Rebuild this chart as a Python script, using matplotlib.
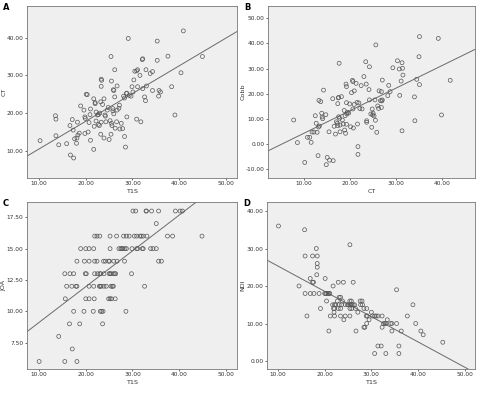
import matplotlib
matplotlib.use('Agg')
import matplotlib.pyplot as plt
import numpy as np

# ---- panel A: T1S vs CT ----
a_t1s = [10.2, 14.2, 13.5, 13.6, 13.6, 15.9, 16.6, 16.7, 17.4, 17.1, 17.3, 17.6, 18.0, 18.1, 18.3,
         18.2, 18.9, 18.6, 19.6, 19.8, 19.8, 19.9, 20.1, 20.3, 20.5, 20.7, 20.9, 21.0, 21.0, 21.7,
         21.7, 21.8, 22.0, 22.0, 22.2, 22.2, 22.5, 22.7, 22.7, 22.9, 23.0, 23.2, 23.2, 23.3, 23.3,
         23.4, 23.3, 23.6, 23.9, 23.9, 24.1, 24.2, 24.3, 24.6, 24.8, 25.0, 25.2, 25.4, 25.5, 25.4,
         25.5, 25.6, 25.8, 25.8, 25.9, 26.0, 26.0, 26.2, 26.2, 26.3, 26.6, 26.7, 26.7, 27.1, 27.2,
         27.3, 27.6, 27.9, 28.1, 28.3, 28.3, 28.5, 28.7, 28.8, 28.8, 29.1, 29.3, 29.7, 29.9, 30.1,
         30.3, 30.5, 30.9, 30.9, 31.1, 31.1, 31.6, 31.8, 32.1, 32.2, 32.2, 32.6, 32.8, 32.9, 33.0,
         33.8, 34.3, 34.3, 35.3, 35.3, 35.6, 35.7, 36.0, 37.6, 38.4, 39.1, 40.4, 40.9, 45.0]
a_ct = [12.7, 11.6, 19.3, 18.4, 14.0, 11.9, 16.7, 8.9, 8.1, 18.3, 15.5, 13.2, 12.0, 13.4, 14.2,
        17.6, 21.9, 14.7, 20.8, 14.6, 19.0, 18.6, 25.0, 24.9, 15.0, 17.5, 19.6, 21.1, 12.8, 23.8,
        10.4, 16.5, 22.8, 22.5, 20.3, 17.9, 19.5, 19.6, 17.0, 16.7, 20.0, 23.0, 14.4, 17.6, 29.0,
        28.7, 27.1, 22.3, 23.8, 13.4, 19.5, 19.2, 17.7, 20.8, 21.5, 13.0, 18.0, 14.4, 28.5, 35.0,
        17.3, 16.7, 20.6, 21.2, 26.2, 26.0, 19.8, 31.5, 24.3, 16.0, 17.7, 27.2, 20.8, 21.3, 22.1,
        15.8, 17.3, 15.9, 24.5, 13.8, 24.0, 11.0, 25.2, 25.3, 19.0, 39.8, 24.7, 24.5, 27.0, 25.6,
        28.8, 31.1, 18.4, 31.2, 31.5, 27.0, 30.0, 17.7, 34.2, 34.4, 26.5, 24.3, 23.3, 31.5, 27.2,
        30.5, 31.0, 26.0, 39.1, 34.0, 24.5, 26.0, 25.6, 35.1, 27.0, 19.5, 30.7, 41.8, 35.0]
a_fit = (0.734, 3.17)

# ---- panel B: CT vs Cobb ----
b_ct = [7.7, 8.5, 10.1, 10.7, 11.2, 11.5, 11.7, 12.1, 12.4, 12.6, 12.8, 13.0, 13.2, 13.6, 13.3,
        13.1, 13.8, 13.9, 14.0, 14.2, 14.7, 14.8, 15.0, 15.5, 15.4, 16.3, 16.2, 16.5, 16.8, 17.0,
        17.2, 17.3, 17.4, 17.5, 17.6, 17.7, 17.5, 17.3, 17.8, 17.8, 18.1, 18.3, 18.5, 18.7, 18.8,
        18.9, 19.1, 19.0, 19.2, 19.2, 19.3, 19.2, 19.4, 19.7, 19.9, 20.1, 20.3, 20.5, 20.6, 20.6,
        20.7, 20.9, 20.9, 21.3, 21.5, 21.6, 21.7, 21.7, 21.9, 22.1, 22.4, 22.6, 23.0, 23.4, 23.5,
        23.6, 23.6, 24.1, 24.2, 24.2, 24.5, 24.7, 24.8, 24.9, 25.0, 25.2, 25.4, 25.5, 25.6, 25.8,
        26.0, 26.2, 26.3, 26.6, 26.8, 26.8, 27.0, 27.0, 26.9, 28.2, 28.4, 28.7, 29.3, 30.3, 30.7,
        30.8, 31.1, 31.3, 31.3, 31.4, 31.5, 34.1, 34.0, 34.5, 35.0, 35.1, 35.1, 39.2, 39.9, 41.8]
b_cobb = [9.5, 0.5, -7.4, 2.6, 2.6, 0.6, 4.7, 4.7, 11.2, 8.2, 4.6, -4.7, 17.3, 16.8, 7.1,
          6.7, 12.2, 10.7, 10.0, 21.4, 11.6, -8.3, -5.4, -6.5, 4.8, -6.7, 18.0, 7.0, 3.9, 8.8,
          8.2, 16.0, 18.3, 18.5, 32.1, 10.2, 10.8, 7.2, 4.8, 7.5, 18.8, 9.5, 7.9, 13.3, 5.5,
          11.2, 23.8, 4.2, 22.8, 7.8, 11.9, 16.4, 12.6, 12.3, 15.9, 6.8, 20.4, 25.3, 24.8, 13.9,
          6.3, 15.7, 21.1, 24.1, 16.5, 7.9, -1.1, -4.2, 16.3, 14.1, 23.2, 13.9, 26.8, 32.7, 23.8,
          9.2, 8.6, 21.6, 30.7, 17.5, 11.9, 6.6, 13.9, 11.5, 12.2, 11.1, 17.5, 9.4, 39.4, 4.6,
          15.1, 14.1, 21.1, 17.2, 20.8, 14.5, 17.5, 25.4, 17.1, 19.2, 23.3, 20.8, 30.3, 33.1, 29.8,
          19.3, 25.0, 5.2, 32.3, 30.1, 27.4, 9.2, 18.7, 25.7, 34.7, 23.6, 42.7, 42.0, 11.5, 25.3]
b_fit = (0.896, -4.68)

# ---- panel C: T1S vs JOA ----
c_t1s = [30.1, 30.7, 32.9, 33.0, 34.1, 35.6, 39.2, 40.2, 40.7,
         35.1,
         21.9, 22.4, 23.0, 25.2, 26.6, 28.1, 28.7, 29.3, 30.4, 30.9, 31.6, 31.9, 32.3, 33.1, 37.5, 38.6, 44.9,
         18.9, 20.0, 20.7, 21.7, 25.2, 27.1, 27.5, 27.7, 28.0, 28.4, 28.7, 29.9, 30.9, 31.1, 32.1, 32.3,
         33.9, 34.4, 35.1,
         18.1, 19.7, 20.7, 21.9, 22.4, 23.8, 24.2, 24.9, 25.1, 26.0, 26.7, 28.3, 35.6, 36.2,
         15.5, 16.6, 17.4, 19.9, 20.1, 21.9, 22.5, 23.0, 23.2, 23.9, 25.0, 25.2, 25.4, 25.9, 26.2, 26.4, 29.8,
         15.9, 17.0, 17.9, 18.1, 20.7, 21.7, 22.9, 23.1, 23.3, 23.9, 24.4, 25.4, 25.7, 25.9, 32.6,
         15.6, 20.0, 20.7, 21.8, 24.9, 25.2, 25.5, 26.3,
         17.4, 19.6, 21.6, 23.1, 23.4, 23.7, 28.6,
         16.5, 18.7, 23.6,
         14.2,
         17.1,
         10.0, 15.5, 18.1]
c_joa = [18] * 9 + [17] * 1 + [16] * 17 + [15] * 19 + [14] * 14 + [13] * 17 + [12] * 15 \
    + [11] * 8 + [10] * 7 + [9] * 3 + [8] * 1 + [7] * 1 + [6] * 3
c_fit = (0.285, 6.27)

# ---- panel D: T1S vs NDI ----
d_t1s = [10.1, 15.7, 15.8, 15.8, 16.2, 14.5, 16.9, 16.9, 17.4, 17.4, 17.6, 17.7, 18.2, 18.4, 18.4,
         18.4, 18.3, 18.8, 19.1, 20.0, 20.2, 20.4, 20.7, 20.9, 21.1, 20.1, 20.4, 20.9, 21.2, 21.8,
         21.7, 22.1, 22.3, 21.9, 22.1, 22.0, 22.1, 22.9, 22.7, 23.1, 23.4, 23.1, 23.6, 22.9, 23.4,
         23.4, 23.8, 24.0, 24.1, 24.4, 24.4, 24.9, 25.1, 25.4, 25.4, 25.7, 25.5, 25.8, 26.1, 25.4,
         25.8, 25.4, 26.1, 26.4, 26.6, 26.7, 27.1, 27.6, 28.0, 27.7, 28.1, 28.4, 29.0, 28.4, 28.6,
         28.9, 29.1, 29.0, 29.5, 30.0, 30.2, 30.7, 31.0, 31.4, 30.7, 31.4, 32.1, 32.3, 32.3, 32.6,
         32.9, 33.1, 33.4, 33.1, 34.1, 34.4, 34.4, 35.4, 35.4, 35.9, 35.9, 36.4, 37.7, 38.9, 39.5,
         40.6, 41.1, 45.3]
d_ndi = [36, 35, 28, 18, 12, 20, 22, 18, 28, 21, 21, 18, 30, 28, 26,
         25, 23, 18, 14, 18, 18, 18, 18, 18, 18, 22, 16, 8, 12, 20,
         15, 15, 15, 14, 14, 13, 12, 21, 16, 17, 17, 15, 15, 14, 14,
         12, 16, 21, 11, 12, 15, 15, 15, 31, 16, 16, 15, 15, 15, 14,
         14, 12, 21, 15, 14, 8, 13, 16, 16, 15, 15, 14, 14, 9, 9,
         12, 12, 10, 11, 13, 12, 12, 12, 12, 2, 4, 4, 12, 9, 10,
         10, 10, 11, 2, 10, 10, 8, 10, 19, 4, 2, 8, 12, 15, 10,
         8, 7, 5]
d_fit = (-0.674, 32.05)

W, H = 478, 395
fig = plt.figure(figsize=(W / 100, H / 100), dpi=100)

panels = [
    # letter, x, y, fit, rect(px: left, top, right, bottom), xlim, ylim, xticks, yticks, xlabel, ylabel
    ('A', a_t1s, a_ct, a_fit, (27, 6, 237, 178), (7.4, 52.4), (2.8, 48.4),
     [10, 20, 30, 40, 50], [10, 20, 30, 40], 'T1S', 'CT'),
    ('B', b_ct, b_cobb, b_fit, (268, 6, 475, 178), (2.1, 47.2), (-13.6, 54.9),
     [10, 20, 30, 40], [-10, 0, 10, 20, 30, 40, 50], 'CT', 'Cobb'),
    ('C', c_t1s, c_joa, c_fit, (27, 202, 237, 369), (7.4, 52.4), (5.4, 18.72),
     [10, 20, 30, 40, 50], [7.5, 10, 12.5, 15, 17.5], 'T1S', 'JOA'),
    ('D', d_t1s, d_ndi, d_fit, (267, 202, 475, 369), (7.64, 52.2), (-2.13, 42.4),
     [10, 20, 30, 40, 50], [0, 10, 20, 30, 40], 'T1S', 'NDI'),
]

for letter, x, y, fit, rect, xlim, ylim, xt, yt, xl, yl in panels:
    l, t, r, b = rect
    ax = fig.add_axes([l / W, 1 - b / H, (r - l) / W, (b - t) / H])
    ax.set_facecolor('#efefef')
    ax.scatter(x, y, s=8, facecolors='none', edgecolors='#555555', linewidths=0.5, zorder=3)
    xs = np.array(xlim)
    ax.plot(xs, fit[0] * xs + fit[1], color='#6a6a6a', lw=0.7, zorder=2)
    ax.set_xlim(xlim)
    ax.set_ylim(ylim)
    ax.set_xticks(xt)
    ax.set_yticks(yt)
    ax.set_xticklabels([f'{v:.2f}' for v in xt])
    ax.set_yticklabels([f'{v:.2f}' for v in yt])
    ax.tick_params(labelsize=4.2, length=1.5, width=0.5, pad=1, colors='#333333')
    for s in ax.spines.values():
        s.set_color('#777777')
        s.set_linewidth(0.6)
    ax.set_xlabel(xl, fontsize=4.6, color='#333333')
    ax.set_ylabel(yl, fontsize=4.6, color='#333333')
    # place axis labels where the reference has them (pixel positions)
    ylab_x = 4 if l < 100 else 243
    ax.yaxis.set_label_coords((ylab_x - l) / (r - l), 0.5)
    ax.xaxis.set_label_coords(0.5, -(14 / (b - t)))
    ax.xaxis.label.set_va('center')
    ax.yaxis.label.set_va('center')
    fig.text((l - 24) / W, 1 - (t + 2) / H, letter, fontsize=6, fontweight='bold',
             ha='left', va='center')

fig.savefig('out.png', dpi=100)
